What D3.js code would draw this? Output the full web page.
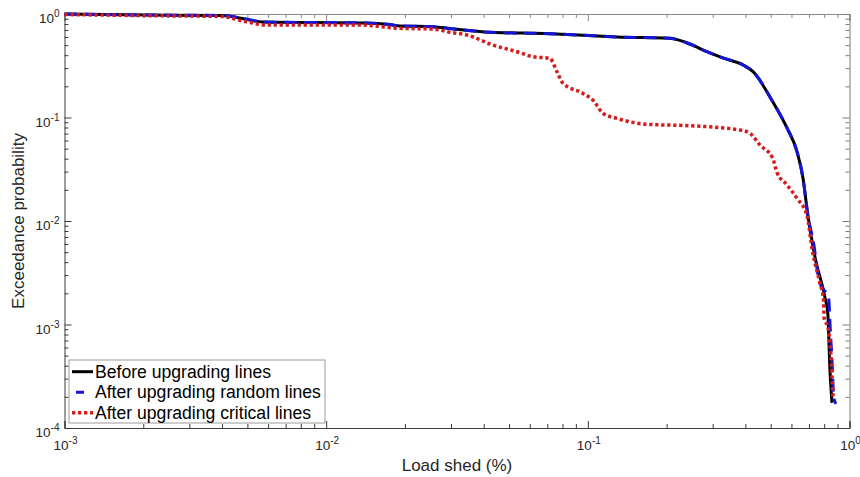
<!DOCTYPE html>
<html>
<head>
<meta charset="utf-8">
<script src="https://cdn.jsdelivr.net/npm/d3@7/dist/d3.min.js"></script>
<style>
  html, body { margin: 0; padding: 0; background: #fff; }
  svg { display: block; font-family: "Liberation Sans", Arial, Helvetica, sans-serif; }
</style>
</head>
<body>
<svg id="chart" width="860" height="477"></svg>
<script>
// Exceedance probability curves of load shed (log-log)
const xTickExps = [-3, -2, -1, 0];
const yTickExps = [-4, -3, -2, -1, 0];

const seriesNames = [
  "Before upgrading lines",
  "After upgrading random lines",
  "After upgrading critical lines"
];

// Before upgrading lines
const beforeShed = [0.001, 0.00212, 0.0040, 0.0049, 0.00573, 0.01406, 0.0175, 0.01914, 0.0256, 0.0297, 0.0423,
  0.0716, 0.1045, 0.129, 0.2056, 0.2455, 0.285, 0.328, 0.392, 0.428, 0.509, 0.577, 0.630, 0.664, 0.693,
  0.738, 0.805, 0.826, 0.841, 0.857];
const beforeProb = [1.0, 0.978, 0.967, 0.895, 0.837, 0.819, 0.79, 0.766, 0.754, 0.724, 0.666,
  0.645, 0.617, 0.600, 0.582, 0.513, 0.432, 0.376, 0.322, 0.277, 0.142, 0.0792, 0.0468, 0.0260, 0.01143,
  0.00449, 0.001845, 0.00129, 0.000388, 0.000175];

// After upgrading random lines
const randomShed = [0.001, 0.00212, 0.0040, 0.0049, 0.00573, 0.01406, 0.0175, 0.01914, 0.0256, 0.0297, 0.0423,
  0.0716, 0.1045, 0.129, 0.2056, 0.2455, 0.285, 0.328, 0.392, 0.428, 0.509, 0.577, 0.630, 0.664, 0.693,
  0.731, 0.764, 0.834, 0.841, 0.857, 0.871, 0.888];
const randomProb = [1.0, 0.978, 0.967, 0.895, 0.837, 0.819, 0.79, 0.766, 0.754, 0.724, 0.666,
  0.645, 0.617, 0.600, 0.582, 0.513, 0.432, 0.376, 0.322, 0.277, 0.142, 0.0792, 0.0468, 0.0260, 0.01143,
  0.00586, 0.00269, 0.00173, 0.00110, 0.000454, 0.000195, 0.000171];

// After upgrading critical lines
const criticalShed = [0.001, 0.00212, 0.0040, 0.00481, 0.00594, 0.01346, 0.01914, 0.0256, 0.0297, 0.0345,
  0.0433, 0.0536, 0.0616, 0.0716, 0.0762, 0.0804, 0.0958, 0.1045, 0.1143, 0.129, 0.1683, 0.2455, 0.381,
  0.416, 0.455, 0.509, 0.527, 0.577, 0.630, 0.687, 0.724, 0.771, 0.796, 0.800, 0.828, 0.849, 0.865];
const criticalProb = [0.989, 0.963, 0.946, 0.856, 0.783, 0.783, 0.727, 0.716, 0.666, 0.627,
  0.502, 0.432, 0.387, 0.373, 0.277, 0.214, 0.171, 0.1476, 0.1098, 0.0982, 0.0860, 0.0833, 0.0757,
  0.0704, 0.0542, 0.0403, 0.0299, 0.0223, 0.01656, 0.01143, 0.00491, 0.00252, 0.00173, 0.001156, 0.000925,
  0.000507, 0.000195];

const svg = d3.select("#chart");
const margin = { left: 64.5, right: 10.5, top: 14, bottom: 49 };
const W = 860, H = 477;
const x0 = margin.left, x1 = W - margin.right, y0 = margin.top, y1 = H - margin.bottom;

const x = d3.scaleLog().domain([1e-3, 1]).range([x0, x1]);
const y = d3.scaleLog().domain([1e-4, 1]).range([y1, y0]);

function minorTicks(lo, hi) {
  const out = [];
  for (let e = lo; e < hi; e++) for (let k = 2; k <= 9; k++) out.push(k * Math.pow(10, e));
  return out;
}
const xMajor = xTickExps.map(e => Math.pow(10, e));
const yMajor = yTickExps.map(e => Math.pow(10, e));
const xMinor = minorTicks(-3, 0);
const yMinor = minorTicks(-4, 0);

// Axes: ticks pointing inward on all four sides
function drawAxis(axisFn, scale, major, minor, transform, color) {
  const gMaj = svg.append("g").attr("transform", transform)
    .call(axisFn(scale).tickValues(major).tickSize(-7).tickFormat(""));
  const gMin = svg.append("g").attr("transform", transform)
    .call(axisFn(scale).tickValues(minor).tickSize(-4).tickFormat(""));
  [gMaj, gMin].forEach(g => {
    g.selectAll("path").attr("stroke", color).attr("stroke-width", 1);
    g.selectAll("line").attr("stroke", color).attr("stroke-width", 1);
  });
  gMin.select("path").remove();
}
drawAxis(d3.axisTop, x, xMajor, xMinor, `translate(0,${y0})`, "#8a8a8a");
drawAxis(d3.axisRight, y, yMajor, yMinor, `translate(${x1},0)`, "#7a7a7a");
drawAxis(d3.axisBottom, x, xMajor, xMinor, `translate(0,${y1})`, "#3a3a3a");
drawAxis(d3.axisLeft, y, yMajor, yMinor, `translate(${x0},0)`, "#3a3a3a");

// Tick labels as powers of ten
function powLabel(g, e, px, py, anchor) {
  const t = g.append("text").attr("x", px).attr("y", py)
    .attr("text-anchor", anchor).attr("fill", "#262626").attr("font-size", 13.5);
  t.append("tspan").text("10");
  t.append("tspan").attr("dy", -6).attr("font-size", 10).text(String(e));
}
const labels = svg.append("g");
xTickExps.forEach(e => powLabel(labels, e, x(Math.pow(10, e)) + 1, y1 + 22, "middle"));
yTickExps.forEach(e => powLabel(labels, e, x0 - 5, y(Math.pow(10, e)) + 9, "end"));

// Axis titles
svg.append("text").attr("x", (x0 + x1) / 2).attr("y", H - 6)
  .attr("text-anchor", "middle").attr("font-size", 17).attr("fill", "#262626")
  .text("Load shed (%)");
svg.append("text")
  .attr("transform", `translate(24,${(y0 + y1) / 2}) rotate(-90)`)
  .attr("text-anchor", "middle").attr("font-size", 17).attr("fill", "#262626")
  .text("Exceedance probability");

// Curves
const line = d3.line()
  .x(d => x(d[0])).y(d => y(d[1]))
  .curve(d3.curveMonotoneX);

const styles = [
  { color: "#000000", width: 3, dash: null },
  { color: "#1515d8", width: 3, dash: "13,7" },
  { color: "#d41c1c", width: 3.5, dash: "3.3,2.7" }
];
const series = [
  d3.zip(beforeShed, beforeProb),
  d3.zip(randomShed, randomProb),
  d3.zip(criticalShed, criticalProb)
];

const plot = svg.append("g");
series.forEach((s, i) => {
  plot.append("path").datum(s)
    .attr("d", line)
    .attr("fill", "none")
    .attr("stroke", styles[i].color)
    .attr("stroke-width", styles[i].width)
    .attr("stroke-dasharray", styles[i].dash)
    .attr("stroke-linejoin", "round");
});

// Legend
const lg = svg.append("g").attr("transform", "translate(69,360)");
lg.append("rect").attr("width", 256).attr("height", 63)
  .attr("fill", "#fff").attr("stroke", "#9a9a9a").attr("stroke-width", 1);
seriesNames.forEach((name, i) => {
  const cy = 11.7 + i * 20.5;
  lg.append("line").attr("x1", 3).attr("x2", 24).attr("y1", cy).attr("y2", cy)
    .attr("stroke", styles[i].color).attr("stroke-width", styles[i].width)
    .attr("stroke-dasharray", i === 1 ? "0,4,8,20" : styles[i].dash);
  lg.append("text").attr("x", 26).attr("y", cy + 6)
    .attr("font-size", 17.6).attr("fill", "#000").text(name);
});
</script>
</body>
</html>
